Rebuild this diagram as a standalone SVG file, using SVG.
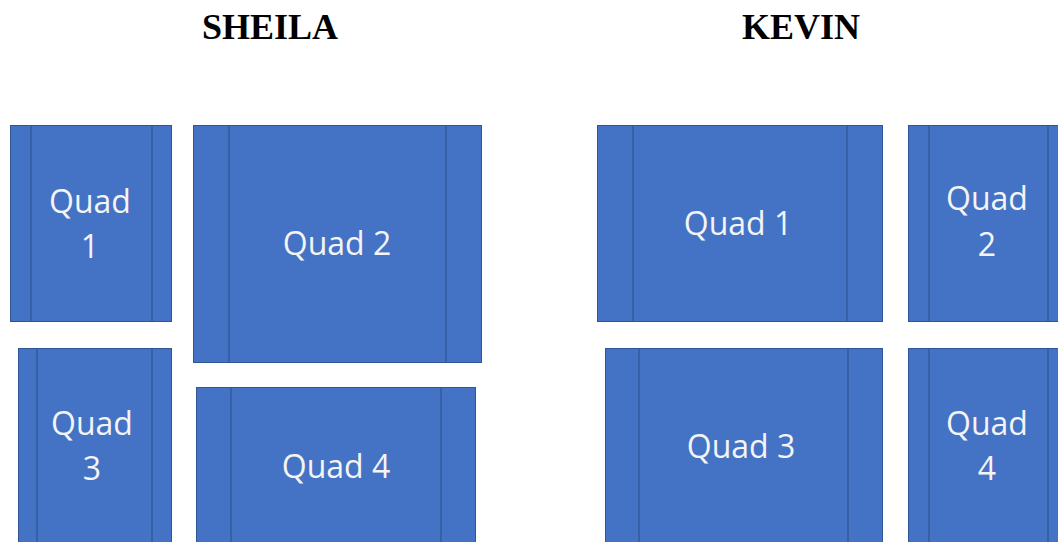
<svg xmlns="http://www.w3.org/2000/svg" width="1058" height="542" viewBox="0 0 1058 542">
<style>
.box{fill:#4472C4;stroke:#2F5597;stroke-width:1}
.ln{stroke:#2F5597;stroke-width:1.2}
.lbl{font-family:"Open Sans","Noto Sans",sans-serif;font-size:32px;fill:#F4F4F4;text-anchor:middle}
.ttl{font-family:"Liberation Serif",serif;font-weight:bold;font-size:36px;fill:#000;text-anchor:middle}
</style>
<rect width="1058" height="542" fill="#fff"/>
<text class="ttl" x="270" y="39">SHEILA</text>
<text class="ttl" x="801" y="39">KEVIN</text>
<g id="sheila-q1">
<rect class="box" x="10.5" y="125.5" width="161" height="196"/>
<line class="ln" x1="31" y1="126" x2="31" y2="321"/>
<line class="ln" x1="152" y1="126" x2="152" y2="321"/>
<text class="lbl" x="90" y="213">Quad</text>
<text class="lbl" x="90" y="258">1</text>
</g>
<g id="sheila-q2">
<rect class="box" x="193.5" y="125.5" width="288" height="237"/>
<line class="ln" x1="229" y1="126" x2="229" y2="362"/>
<line class="ln" x1="446" y1="126" x2="446" y2="362"/>
<text class="lbl" x="337" y="255">Quad 2</text>
</g>
<g id="sheila-q3">
<rect class="box" x="18.5" y="348.5" width="153" height="200"/>
<line class="ln" x1="37" y1="349" x2="37" y2="542"/>
<line class="ln" x1="152" y1="349" x2="152" y2="542"/>
<text class="lbl" x="92" y="435">Quad</text>
<text class="lbl" x="92" y="480">3</text>
</g>
<g id="sheila-q4">
<rect class="box" x="196.5" y="387.5" width="279" height="160"/>
<line class="ln" x1="231" y1="388" x2="231" y2="542"/>
<line class="ln" x1="441" y1="388" x2="441" y2="542"/>
<text class="lbl" x="336" y="478">Quad 4</text>
</g>
<g id="kevin-q1">
<rect class="box" x="597.5" y="125.5" width="285" height="196"/>
<line class="ln" x1="633" y1="126" x2="633" y2="321"/>
<line class="ln" x1="847" y1="126" x2="847" y2="321"/>
<text class="lbl" x="738" y="235">Quad 1</text>
</g>
<g id="kevin-q2">
<rect class="box" x="908.5" y="125.5" width="160" height="196"/>
<line class="ln" x1="929" y1="126" x2="929" y2="321"/>
<line class="ln" x1="1048" y1="126" x2="1048" y2="321"/>
<text class="lbl" x="987" y="210">Quad</text>
<text class="lbl" x="987" y="256">2</text>
</g>
<g id="kevin-q3">
<rect class="box" x="605.5" y="348.5" width="277" height="200"/>
<line class="ln" x1="639" y1="349" x2="639" y2="542"/>
<line class="ln" x1="848" y1="349" x2="848" y2="542"/>
<text class="lbl" x="741" y="458">Quad 3</text>
</g>
<g id="kevin-q4">
<rect class="box" x="908.5" y="348.5" width="160" height="200"/>
<line class="ln" x1="929" y1="349" x2="929" y2="542"/>
<line class="ln" x1="1048" y1="349" x2="1048" y2="542"/>
<text class="lbl" x="987" y="435">Quad</text>
<text class="lbl" x="987" y="480">4</text>
</g>
<g id="connectors"/>
</svg>
